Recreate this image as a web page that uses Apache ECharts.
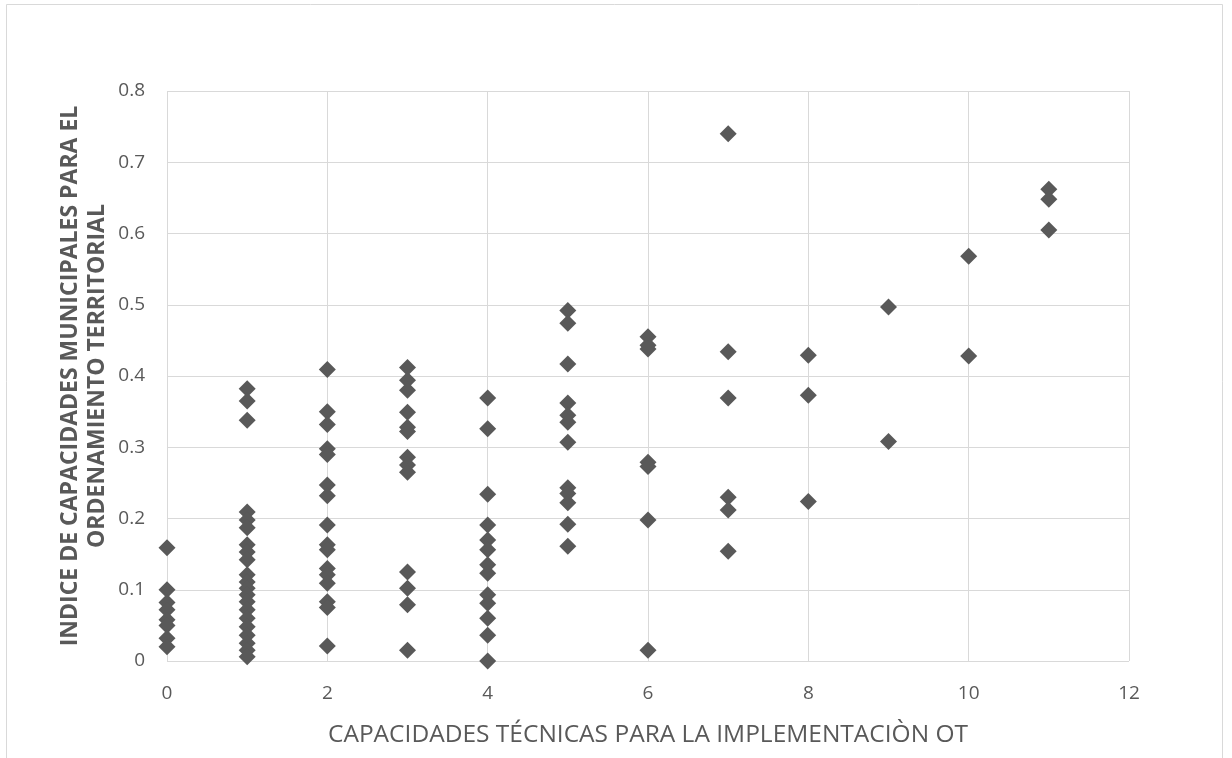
<!DOCTYPE html>
<html>
<head>
<meta charset="utf-8">
<script src="https://cdn.jsdelivr.net/npm/echarts@6/dist/echarts.min.js"></script>
<style>html,body{margin:0;padding:0;background:#fff;}#chart{width:1232px;height:758px;}</style>
</head>
<body>
<div id="chart"></div>
<script>
// Y values grouped by x value (capacidades técnicas)
const xCapacidades = [0, 1, 2, 3, 4, 5, 6, 7, 8, 9, 10, 11];
const yAt0 = [0.159, 0.1, 0.082, 0.072, 0.058, 0.05, 0.032, 0.02];
const yAt1 = [0.382, 0.365, 0.338, 0.209, 0.198, 0.187, 0.163, 0.153, 0.142, 0.121, 0.111, 0.102, 0.093, 0.083, 0.072, 0.06, 0.048, 0.036, 0.025, 0.015, 0.006];
const yAt2 = [0.409, 0.35, 0.332, 0.298, 0.29, 0.247, 0.232, 0.191, 0.163, 0.156, 0.13, 0.121, 0.109, 0.083, 0.075, 0.021];
const yAt3 = [0.412, 0.394, 0.38, 0.349, 0.328, 0.322, 0.286, 0.275, 0.265, 0.125, 0.102, 0.079, 0.015];
const yAt4 = [0.369, 0.326, 0.234, 0.191, 0.17, 0.156, 0.135, 0.123, 0.093, 0.081, 0.06, 0.036, 0.0];
const yAt5 = [0.492, 0.474, 0.417, 0.362, 0.345, 0.335, 0.307, 0.243, 0.235, 0.222, 0.192, 0.161];
const yAt6 = [0.455, 0.443, 0.438, 0.279, 0.273, 0.198, 0.015];
const yAt7 = [0.74, 0.434, 0.369, 0.23, 0.212, 0.154];
const yAt8 = [0.429, 0.373, 0.224];
const yAt9 = [0.497, 0.308];
const yAt10 = [0.568, 0.428];
const yAt11 = [0.662, 0.648, 0.605];
const xTitle = 'CAPACIDADES TÉCNICAS PARA LA IMPLEMENTACIÒN OT';
const yTitle = 'INDICE DE CAPACIDADES MUNICIPALES PARA EL\nORDENAMIENTO TERRITORIAL';

const columns = [yAt0, yAt1, yAt2, yAt3, yAt4, yAt5, yAt6, yAt7, yAt8, yAt9, yAt10, yAt11];
const points = [];
columns.forEach((ys, i) => ys.forEach(y => points.push([xCapacidades[i], y])));

const chart = echarts.init(document.getElementById('chart'), null, {renderer: 'canvas'});
const font = '"Open Sans", "Liberation Sans", Arial, sans-serif';
chart.setOption({
  animation: false,
  backgroundColor: '#ffffff',
  grid: {left: 167, right: 103, top: 91, bottom: 97, containLabel: false},
  xAxis: {
    type: 'value', min: 0, max: 12, interval: 2,
    name: xTitle, nameLocation: 'middle', nameGap: 62, nameMoveOverlap: false,
    nameTextStyle: {color: '#595959', fontSize: 24.5, fontFamily: font},
    axisLine: {show: false}, axisTick: {show: false},
    axisLabel: {color: '#595959', fontSize: 19, fontFamily: font, margin: 23},
    splitLine: {show: true, lineStyle: {color: '#d9d9d9', width: 1}}
  },
  yAxis: {
    type: 'value', min: 0, max: 0.8, interval: 0.1,
    name: yTitle, nameLocation: 'middle', nameGap: 56, nameRotate: 90, nameMoveOverlap: false,
    nameTextStyle: {color: '#595959', fontSize: 23, fontWeight: 'bold', fontFamily: font, lineHeight: 27},
    axisLine: {show: false}, axisTick: {show: false},
    axisLabel: {color: '#595959', fontSize: 19, fontFamily: font, margin: 22,
      formatter: v => String(Math.round(v * 10) / 10)},
    splitLine: {show: true, lineStyle: {color: '#d9d9d9', width: 1}}
  },
  graphic: [{
    type: 'rect', silent: true, z: -1,
    shape: {x: 6.5, y: 4.5, width: 1216, height: 800},
    style: {fill: 'none', stroke: '#d9d9d9', lineWidth: 1}
  }],
  series: [{
    type: 'scatter',
    symbol: 'diamond',
    symbolSize: [17, 17],
    itemStyle: {color: '#595959', opacity: 1},
    data: points
  }]
});
</script>
</body>
</html>
